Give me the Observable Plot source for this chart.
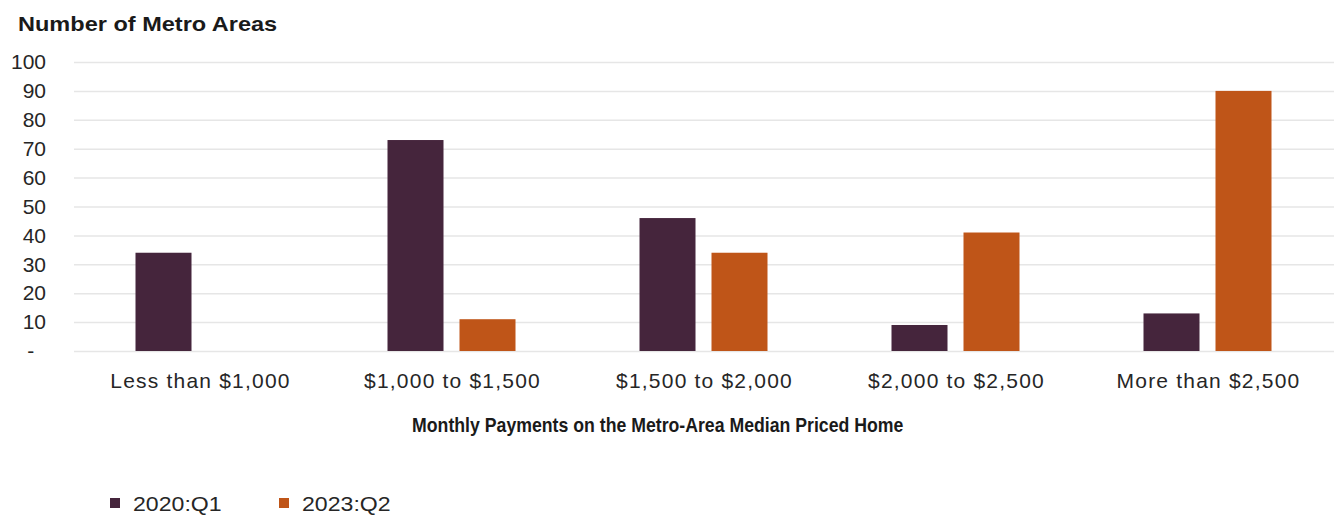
<!DOCTYPE html>
<html>
<head>
<meta charset="utf-8">
<script src="https://cdn.jsdelivr.net/npm/d3@7"></script>
<script src="https://cdn.jsdelivr.net/npm/@observablehq/plot@0.6"></script>
<style>
  body { margin: 0; background: #fff; font-family: "Liberation Sans", Arial, sans-serif; color: #1a1a1a; }
  #wrap { position: relative; width: 1335px; height: 517px; overflow: hidden; background: #fff; }
  #title { position: absolute; left: 18px; top: 13px; font-size: 21px; line-height: 21px; font-weight: bold; white-space: nowrap; transform: scaleX(1.12); transform-origin: left center; }
  #chart { position: absolute; left: 0; top: 40px; }
  #xtitle { position: absolute; left: 0; width: 1315px; top: 414px; text-align: center; font-size: 21px; line-height: 21px; font-weight: bold; white-space: nowrap; }
  #xtitle span { display: inline-block; transform: scaleX(0.842); transform-origin: center; }
  .sw { position: absolute; width: 10px; height: 10px; }
  .lt { position: absolute; font-size: 21px; line-height: 21px; white-space: nowrap; transform: scaleX(1.1); transform-origin: left center; color: #262626; }
  #chart svg [aria-label="fx-axis tick label"] text { letter-spacing: 1.2px; }
</style>
</head>
<body>
<div id="wrap">
  <div id="title">Number of Metro Areas</div>
  <div id="chart"></div>
  <div id="xtitle"><span>Monthly Payments on the Metro-Area Median Priced Home</span></div>
  <div id="legend"></div>
</div>
<script>
const categories = ["Less than $1,000", "$1,000 to $1,500", "$1,500 to $2,000", "$2,000 to $2,500", "More than $2,500"];
const series = ["2020:Q1", "2023:Q2"];
const values2020Q1 = [34, 73, 46, 9, 13];
const values2023Q2 = [0, 11, 34, 41, 90];
const yTicks = [0, 10, 20, 30, 40, 50, 60, 70, 80, 90, 100];
const colors = ["#45253c", "#bf5518"];

const data = categories.flatMap((c, i) => [
  {category: c, period: series[0], count: values2020Q1[i]},
  {category: c, period: series[1], count: values2023Q2[i]}
]);

const chart = Plot.plot({
  width: 1335,
  height: 360,
  marginLeft: 73.5,
  marginRight: 1.5,
  marginTop: 22,
  marginBottom: 49,
  style: {fontFamily: '"Liberation Sans", Arial, sans-serif', fontSize: "21px", color: "#262626", background: "transparent"},
  fx: {domain: categories, padding: 0, label: null},
  x: {domain: series, paddingInner: 0.222, paddingOuter: 0.861, axis: null},
  y: {domain: [0, 100], label: null},
  color: {domain: series, range: colors},
  marks: [
    Plot.gridY(yTicks, {stroke: "#e6e6e6", strokeOpacity: 1, strokeWidth: 1.5}),
    Plot.barY(data, {fx: "category", x: "period", y: "count", fill: "period"}),
    Plot.axisY(yTicks, {tickSize: 0, tickPadding: 28.5, fontSize: 21, label: null,
      tickFormat: d => d === 0 ? "-\u2007" : String(d)}),
    Plot.axisFx({anchor: "bottom", tickSize: 0, tickPadding: 22, fontSize: 21, label: null})
  ]
});
document.getElementById("chart").appendChild(chart);

// legend
const legend = document.getElementById("legend");
const swX = [110, 279];
series.forEach((s, i) => {
  const sw = document.createElement("div");
  sw.className = "sw";
  sw.style.left = swX[i] + "px";
  sw.style.top = "498px";
  sw.style.background = chart.scale("color").apply(s);
  legend.appendChild(sw);
  const t = document.createElement("div");
  t.className = "lt";
  t.style.left = (swX[i] + 23) + "px";
  t.style.top = "493px";
  t.textContent = s;
  legend.appendChild(t);
});
</script>
</body>
</html>
